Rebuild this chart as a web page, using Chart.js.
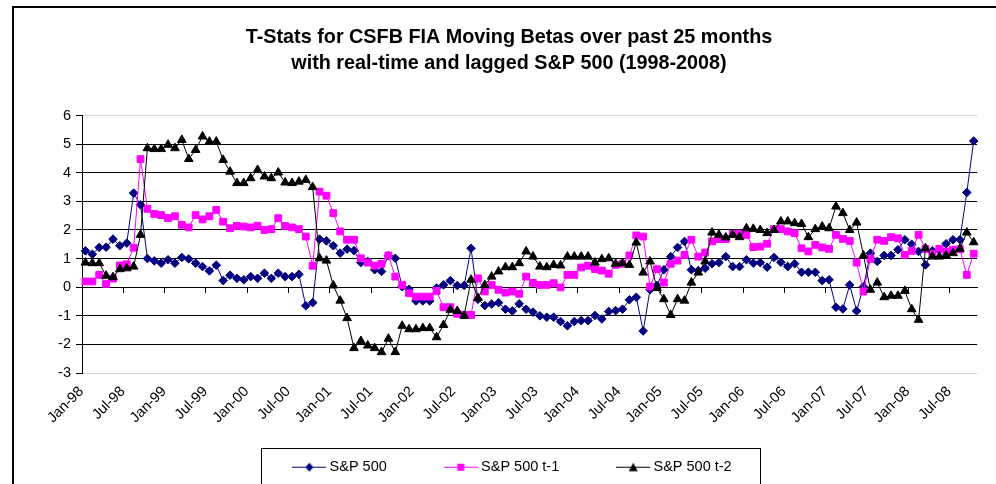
<!DOCTYPE html>
<html><head><meta charset="utf-8">
<script src="https://cdn.jsdelivr.net/npm/chart.js@4.4.0/dist/chart.umd.min.js"></script>
<style>
html,body{margin:0;padding:0;background:#fff;overflow:hidden;width:996px;height:484px;}
#frame{position:absolute;left:12px;top:6px;width:1100px;height:600px;border:2px solid #000;box-sizing:border-box;}
#wrap{position:absolute;left:0;top:0;width:996px;height:490px;}
canvas{display:block;}
</style></head><body>
<div id="frame"></div>
<div id="wrap"><canvas id="c" width="996" height="490" style="width:996px;height:490px"></canvas></div>
<script>
const titleLines = ['T-Stats for CSFB FIA Moving Betas over past 25 months', 'with real-time and lagged S&P 500 (1998-2008)'];
const seriesNames = ['S&P 500', 'S&P 500 t-1', 'S&P 500 t-2'];
const categories = [
 'Jan-98','Feb-98','Mar-98','Apr-98','May-98','Jun-98','Jul-98','Aug-98','Sep-98','Oct-98','Nov-98','Dec-98',
 'Jan-99','Feb-99','Mar-99','Apr-99','May-99','Jun-99','Jul-99','Aug-99','Sep-99','Oct-99','Nov-99','Dec-99',
 'Jan-00','Feb-00','Mar-00','Apr-00','May-00','Jun-00','Jul-00','Aug-00','Sep-00','Oct-00','Nov-00','Dec-00',
 'Jan-01','Feb-01','Mar-01','Apr-01','May-01','Jun-01','Jul-01','Aug-01','Sep-01','Oct-01','Nov-01','Dec-01',
 'Jan-02','Feb-02','Mar-02','Apr-02','May-02','Jun-02','Jul-02','Aug-02','Sep-02','Oct-02','Nov-02','Dec-02',
 'Jan-03','Feb-03','Mar-03','Apr-03','May-03','Jun-03','Jul-03','Aug-03','Sep-03','Oct-03','Nov-03','Dec-03',
 'Jan-04','Feb-04','Mar-04','Apr-04','May-04','Jun-04','Jul-04','Aug-04','Sep-04','Oct-04','Nov-04','Dec-04',
 'Jan-05','Feb-05','Mar-05','Apr-05','May-05','Jun-05','Jul-05','Aug-05','Sep-05','Oct-05','Nov-05','Dec-05',
 'Jan-06','Feb-06','Mar-06','Apr-06','May-06','Jun-06','Jul-06','Aug-06','Sep-06','Oct-06','Nov-06','Dec-06',
 'Jan-07','Feb-07','Mar-07','Apr-07','May-07','Jun-07','Jul-07','Aug-07','Sep-07','Oct-07','Nov-07','Dec-07',
 'Jan-08','Feb-08','Mar-08','Apr-08','May-08','Jun-08','Jul-08','Aug-08','Sep-08','Oct-08'
];
const sp500 = [
 1.27,1.15,1.39,1.40,1.68,1.45,1.54,3.29,2.88,1.00,
 0.92,0.84,0.96,0.84,1.04,0.99,0.84,0.72,0.57,0.77,
 0.23,0.42,0.31,0.26,0.37,0.31,0.49,0.31,0.49,0.37,
 0.37,0.45,-0.65,-0.54,1.68,1.62,1.45,1.19,1.33,1.28,
 0.86,0.90,0.61,0.55,1.10,1.01,0.02,-0.07,-0.48,-0.48,
 -0.48,-0.03,0.08,0.23,0.06,0.06,1.36,-0.42,-0.64,-0.59,
 -0.54,-0.77,-0.83,-0.58,-0.77,-0.87,-1.00,-1.05,-1.05,-1.20,
 -1.35,-1.20,-1.17,-1.17,-0.99,-1.11,-0.85,-0.82,-0.77,-0.44,
 -0.35,-1.53,-0.09,0.06,0.61,1.07,1.39,1.60,0.61,0.58,
 0.66,0.82,0.86,1.07,0.72,0.72,0.96,0.84,0.86,0.70,
 1.04,0.87,0.72,0.82,0.52,0.52,0.52,0.23,0.26,-0.70,
 -0.76,0.08,-0.83,0.02,1.19,0.90,1.11,1.11,1.31,1.66,
 1.50,1.25,0.78,1.27,1.31,1.52,1.66,1.66,3.31,5.11
];
const sp500t1 = [
 0.20,0.20,0.43,0.12,0.30,0.76,0.80,1.38,4.48,2.74,
 2.56,2.52,2.42,2.48,2.18,2.09,2.52,2.37,2.48,2.70,
 2.29,2.06,2.14,2.12,2.09,2.15,2.00,2.03,2.41,2.14,
 2.09,2.03,1.77,0.75,3.34,3.20,2.59,1.95,1.66,1.66,
 1.01,0.86,0.75,0.82,1.11,0.37,0.08,-0.21,-0.33,-0.33,
 -0.33,-0.13,-0.70,-0.70,-0.93,-0.97,-0.97,0.31,-0.15,0.08,
 -0.09,-0.19,-0.15,-0.23,0.37,0.15,0.08,0.08,0.14,-0.01,
 0.43,0.43,0.69,0.75,0.63,0.58,0.47,0.78,0.82,1.11,
 1.81,1.77,0.02,0.63,0.16,0.82,0.93,1.13,1.66,1.07,
 1.21,1.60,1.68,1.68,1.86,1.86,1.83,1.40,1.42,1.52,
 2.03,2.03,1.95,1.89,1.36,1.25,1.48,1.39,1.34,1.83,
 1.69,1.62,0.86,-0.15,0.99,1.66,1.62,1.75,1.71,1.13,
 1.27,1.83,1.34,1.17,1.34,1.25,1.31,1.33,0.43,1.17
];
const sp500t2 = [
 0.86,0.84,0.84,0.40,0.35,0.63,0.66,0.72,1.83,4.86,
 4.83,4.83,4.98,4.86,5.15,4.48,4.80,5.27,5.09,5.09,
 4.45,4.04,3.64,3.64,3.81,4.10,3.87,3.81,4.01,3.66,
 3.64,3.69,3.75,3.50,1.01,0.93,0.06,-0.47,-1.08,-2.13,
 -1.88,-2.04,-2.13,-2.27,-1.80,-2.27,-1.35,-1.47,-1.47,-1.43,
 -1.43,-1.75,-1.32,-0.79,-0.83,-1.00,0.26,-0.38,0.08,0.37,
 0.55,0.70,0.70,0.84,1.25,1.07,0.72,0.70,0.78,0.76,
 1.07,1.07,1.07,1.07,0.86,0.98,1.01,0.82,0.84,0.78,
 1.56,0.51,0.90,-0.03,-0.42,-0.97,-0.42,-0.47,0.16,0.51,
 0.90,1.91,1.83,1.74,1.83,1.75,2.06,2.04,2.00,1.89,
 2.00,2.30,2.30,2.24,2.21,1.75,2.03,2.12,2.06,2.82,
 2.59,2.00,2.26,1.11,-0.09,0.16,-0.35,-0.30,-0.30,-0.13,
 -0.77,-1.14,1.36,1.07,1.07,1.11,1.19,1.34,1.91,1.57
];
const yTicks = [-3,-2,-1,0,1,2,3,4,5,6];
const labelEvery = 6;

const colors = ['#000080', '#FF00FF', '#000000'];
const styles = ['rectRot', 'rect', 'triangle'];
const radii = [4.3, 4.8, 5];
const fontSize = 14.5;

function makeIcon(color, style) {
  const c = document.createElement('canvas');
  c.width = 34; c.height = 12;
  const g = c.getContext('2d');
  g.strokeStyle = color; g.fillStyle = color; g.lineWidth = 1;
  g.beginPath(); g.moveTo(0, 6.5); g.lineTo(34, 6.5); g.stroke();
  g.beginPath();
  if (style === 'rectRot') { g.moveTo(17, 2); g.lineTo(21, 6.5); g.lineTo(17, 11); g.lineTo(13, 6.5); g.closePath(); }
  else if (style === 'rect') { g.rect(13.5, 3, 7, 7); }
  else { g.moveTo(17, 2); g.lineTo(21.5, 10.5); g.lineTo(12.5, 10.5); g.closePath(); }
  g.fill();
  return c;
}
const icons = colors.map((c, i) => makeIcon(c, styles[i]));

// layout nudges of the title and legend blocks
const titleShift = -5;
const legendShift = 0;
const legendItemCenterFromBottom = 19.3;

const layoutTweak = {
  id: 'layoutTweak',
  afterLayout(chart) {
    const t = chart.titleBlock;
    if (t) { t.left += titleShift; t.right += titleShift; }
    const lg = chart.legend;
    if (lg) {
      const pad = lg.options.labels.padding;
      const ih = fontSize;
      const newTop = lg.bottom - legendItemCenterFromBottom - ih / 2 - pad;
      lg.top = newTop;
      lg.height = lg.bottom - newTop;
      lg.left += legendShift; lg.right += legendShift;
    }
  }
};

const legendBoxPlugin = {
  id: 'legendBox',
  afterDraw(chart) {
    const lg = chart.legend;
    if (!lg || !lg.legendHitBoxes || !lg.legendHitBoxes.length) return;
    const hb = lg.legendHitBoxes;
    const first = hb[0], last = hb[hb.length - 1];
    const cy = first.top + first.height / 2;
    const ctx = chart.ctx;
    ctx.save();
    ctx.strokeStyle = '#000';
    ctx.lineWidth = 1;
    const l = Math.round(first.left - 35) + 0.5;
    const r = Math.round(last.left + last.width + 28) + 0.5;
    const t = Math.round(cy - 18.5) + 0.5;
    const b = Math.round(cy + 18.5) + 0.5;
    ctx.strokeRect(l, t, r - l, b - t);
    ctx.restore();
  }
};

Chart.defaults.font.family = '"Liberation Sans", Arial, sans-serif';
Chart.defaults.font.size = fontSize;
Chart.defaults.color = '#000';

const seriesData = [sp500, sp500t1, sp500t2];
new Chart(document.getElementById('c'), {
  type: 'line',
  data: {
    labels: categories,
    datasets: seriesData.map((d, i) => ({
      label: seriesNames[i],
      data: d,
      borderColor: colors[i],
      backgroundColor: colors[i],
      pointBackgroundColor: colors[i],
      pointBorderColor: colors[i],
      pointStyle: styles[i],
      pointRadius: radii[i],
      pointBorderWidth: 1,
      borderWidth: 1,
      tension: 0,
      fill: false,
      order: 2 - i
    }))
  },
  options: {
    responsive: false,
    animation: false,
    devicePixelRatio: 1,
    layout: { padding: { left: 36, right: 4, top: 0, bottom: 4 } },
    scales: {
      x: {
        type: 'category',
        offset: true,
        afterFit(s) { s.height = 73; },
        grid: { display: false, drawTicks: false, offset: true },
        border: { display: false },
        ticks: {
          autoSkip: false, maxRotation: 45, minRotation: 45, padding: 10, labelOffset: -4,
          font: { size: fontSize }, color: '#000',
          callback(v, idx) { return idx % labelEvery === 0 ? categories[idx] : ''; }
        }
      },
      x2: {
        type: 'category',
        labels: categories,
        position: { y: 0 },
        offset: true,
        grid: {
          display: true, drawOnChartArea: false, drawTicks: true, tickLength: 5, offset: true,
          tickColor: (c) => (c.index % labelEvery === 0 ? '#000' : 'rgba(0,0,0,0)')
        },
        border: { display: true, color: '#000', width: 1 },
        ticks: { autoSkip: false, maxRotation: 0, padding: 0, callback: () => '' }
      },
      y: {
        min: yTicks[0], max: yTicks[yTicks.length - 1],
        afterFit(s) { s.width = 46; },
        afterBuildTicks(s) { s.ticks = yTicks.map(v => ({ value: v })); },
        ticks: { stepSize: 1, padding: 5, color: '#000', font: { size: fontSize } },
        grid: {
          color: (c) => (c.tick && (c.tick.value === yTicks[0] || c.tick.value === yTicks[yTicks.length - 1]) ? '#d4d4d4' : '#000'),
          tickColor: '#000', tickLength: 6, lineWidth: 1
        },
        border: { display: true, color: '#000', width: 1 }
      }
    },
    plugins: {
      tooltip: { enabled: false },
      title: {
        display: true,
        text: titleLines,
        color: '#000',
        font: { size: 19.8, weight: 'bold', lineHeight: 1.29 },
        padding: { top: 25, bottom: 39.5 }
      },
      legend: {
        position: 'bottom',
        maxHeight: 40,
        labels: {
          usePointStyle: true,
          pointStyleWidth: 26,
          padding: 61,
          color: '#000',
          font: { size: fontSize },
          generateLabels(chart) {
            return chart.data.datasets.map((ds, i) => ({
              text: ds.label, pointStyle: icons[i], datasetIndex: i,
              fillStyle: colors[i], strokeStyle: colors[i], lineWidth: 0, hidden: false, fontColor: '#000'
            }));
          }
        }
      }
    }
  },
  plugins: [layoutTweak, legendBoxPlugin]
});
</script>
</body></html>
